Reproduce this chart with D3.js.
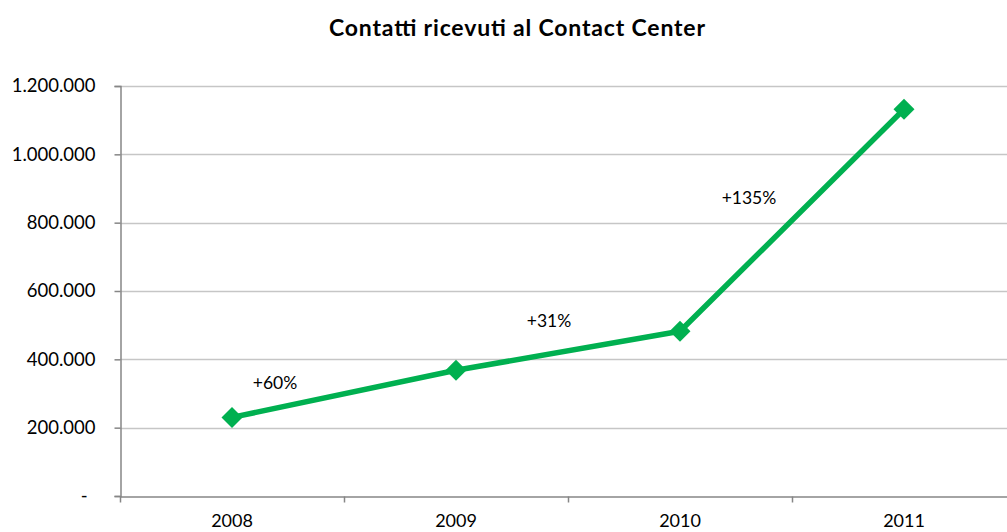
<!DOCTYPE html>
<html>
<head>
<meta charset="utf-8">
<script src="https://cdn.jsdelivr.net/npm/d3@7"></script>
<style>
  body { margin: 0; background: #fff; }
  text { font-family: Lato, "Open Sans", sans-serif; }
</style>
</head>
<body>
<svg id="chart" width="1007" height="532"></svg>
<script>
// Contatti ricevuti per anno
const years = ["2008", "2009", "2010", "2011"];
const contacts = [230000, 368000, 482000, 1132000];
const growthLabels = ["+60%", "+31%", "+135%"];
const yTicks = [0, 200000, 400000, 600000, 800000, 1000000, 1200000];

const svg = d3.select("#chart");
const margin = { left: 120, top: 86, bottom: 496 };
const plotRight = 1016;

const x = d3.scaleBand().domain(years).range([margin.left, plotRight]);
const y = d3.scaleLinear().domain([0, 1200000]).range([margin.bottom, margin.top]);

const fmt = v => v === 0 ? "-" : d3.format(",")(v).replace(/,/g, ".");

// title
svg.append("text")
  .attr("x", 517)
  .attr("y", 36)
  .attr("text-anchor", "middle")
  .attr("font-size", "23px")
  .attr("font-weight", "bold")
  .attr("fill", "#000")
  .attr("textLength", 376)
  .attr("lengthAdjust", "spacing")
  .text("Contatti ricevuti al Contact Center");

// gridlines
svg.append("g")
  .selectAll("line")
  .data(yTicks.filter(d => d > 0))
  .enter()
  .append("line")
  .attr("x1", margin.left)
  .attr("x2", 1007)
  .attr("y1", d => Math.round(y(d)) + 0.5)
  .attr("y2", d => Math.round(y(d)) + 0.5)
  .attr("stroke", "#c6c6c6")
  .attr("stroke-width", 1.5);

// y axis
const yAxis = svg.append("g")
  .attr("transform", `translate(${margin.left + 0.5},0)`)
  .call(d3.axisLeft(y).tickValues(yTicks).tickFormat(fmt).tickSize(6).tickPadding(19));
yAxis.select(".domain").attr("stroke", "#868686").attr("stroke-width", 1.5);
yAxis.selectAll(".tick line").attr("stroke", "#868686").attr("stroke-width", 1.5);
yAxis.selectAll("text").attr("font-size", "18.5px").attr("fill", "#000")
  .attr("font-family", "Lato, 'Open Sans', sans-serif");
// accounting-style dash for zero sits further left
yAxis.selectAll(".tick text").filter(d => d === 0).attr("dx", "-8");

// x axis
const xAxis = svg.append("g")
  .attr("transform", `translate(0,${margin.bottom + 0.5})`)
  .call(d3.axisBottom(x).tickSize(0).tickPadding(18));
xAxis.select(".domain").attr("stroke", "#868686").attr("stroke-width", 1.5);
xAxis.selectAll("text").attr("font-size", "18px").attr("fill", "#000")
  .attr("font-family", "Lato, 'Open Sans', sans-serif");
// category boundary ticks
xAxis.selectAll("line.bound")
  .data(years)
  .enter()
  .append("line")
  .attr("class", "bound")
  .attr("x1", d => Math.round(x(d)) + 0.5)
  .attr("x2", d => Math.round(x(d)) + 0.5)
  .attr("y1", 0)
  .attr("y2", 6)
  .attr("stroke", "#868686")
  .attr("stroke-width", 1.5);

// line
const cx = d => x(d) + x.bandwidth() / 2;
const line = d3.line()
  .x((d, i) => cx(years[i]))
  .y(d => y(d));

svg.append("path")
  .datum(contacts)
  .attr("d", line)
  .attr("fill", "none")
  .attr("stroke", "#00b050")
  .attr("stroke-width", 5.5)
  .attr("stroke-linejoin", "round");

// diamond markers
svg.append("g")
  .selectAll("path")
  .data(contacts)
  .enter()
  .append("path")
  .attr("transform", (d, i) => `translate(${cx(years[i])},${y(d)})`)
  .attr("d", d3.symbol().type(d3.symbolDiamond2).size(280))
  .attr("fill", "#00b050");

// growth annotations
const labelPos = [
  { x: 275, y: 389 },
  { x: 549, y: 327 },
  { x: 749, y: 204 }
];
svg.append("g")
  .selectAll("text")
  .data(growthLabels)
  .enter()
  .append("text")
  .attr("x", (d, i) => labelPos[i].x)
  .attr("y", (d, i) => labelPos[i].y)
  .attr("text-anchor", "middle")
  .attr("font-size", "17.5px")
  .attr("fill", "#000")
  .text(d => d);
</script>
</body>
</html>
